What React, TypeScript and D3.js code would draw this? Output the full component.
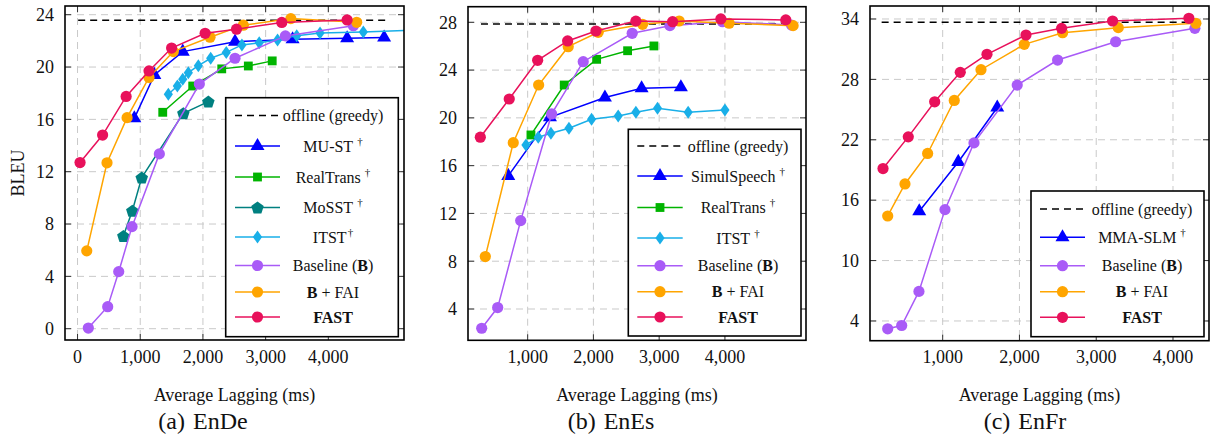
import React from 'react';
import * as d3 from 'd3';

type P = [number, number];

// ---------------- DATA ----------------
// EnDe
const endeFAST: P[] = [[40, 12.7], [400, 14.8], [775, 17.75], [1140, 19.7], [1500, 21.45], [2035, 22.58], [2535, 22.89], [3258, 23.41], [4300, 23.6]];
const endeFAI: P[] = [[147, 5.95], [470, 12.68], [790, 16.13], [1140, 19.2], [1528, 21.18], [2113, 22.28], [2644, 23.2], [3402, 23.7], [4452, 23.42]];
const endeBase: P[] = [[172, 0.05], [481, 1.68], [657, 4.36], [869, 7.8], [1305, 13.36], [1943, 18.7], [2512, 20.67], [3315, 22.38], [4399, 23.16]];
const endeMUST: P[] = [[906, 16.08], [1225, 19.4], [1678, 21.18], [2512, 21.94], [3430, 22.12], [4300, 22.2], [4890, 22.26]];
const endeRealTrans: P[] = [[1359, 16.54], [1837, 18.55], [2300, 19.86], [2724, 20.08], [3105, 20.47]];
const endeMoSST: P[] = [[731, 7.09], [874, 9.02], [1024, 11.55], [1688, 16.47], [2086, 17.36]];
const endeITST: P[] = [[1448, 17.92], [1592, 18.55], [1678, 19.07], [1767, 19.57], [1927, 20.1], [2124, 20.67], [2372, 21.12], [2622, 21.69], [2898, 21.85], [3190, 22.07], [3496, 22.4], [3868, 22.6], [4558, 22.68], [5600, 22.85]];
const endeOffline = { from: 10, to: 4950, bleu: 23.58 };

// EnEs
const enesFAST: P[] = [[280, 18.38], [720, 21.58], [1152, 24.82], [1608, 26.44], [2038, 27.27], [2646, 28.1], [3204, 28.05], [3938, 28.28], [4926, 28.2]];
const enesFAI: P[] = [[356, 8.39], [781, 17.92], [1167, 22.75], [1617, 25.96], [2073, 27.16], [2748, 27.83], [3304, 28.11], [4064, 27.92], [5037, 27.72]];
const enesBase: P[] = [[301, 2.39], [544, 4.12], [894, 11.4], [1365, 20.33], [1845, 24.7], [2590, 27.08], [3163, 27.72], [3963, 28.05], [5012, 27.77]];
const enesSimulSpeech: P[] = [[705, 15.14], [1339, 20.05], [2175, 21.7], [2733, 22.48], [3330, 22.56]];
const enesRealTrans: P[] = [[1050, 18.57], [1556, 22.75], [2049, 24.9], [2520, 25.62], [2920, 26.02]];
const enesITST: P[] = [[974, 17.73], [1161, 18.38], [1354, 18.71], [1628, 19.13], [1972, 19.88], [2377, 20.16], [2646, 20.47], [2975, 20.8], [3441, 20.47], [4000, 20.66]];
const enesOffline = { from: 290, to: 5030, bleu: 27.86 };

// EnFr
const enfrFAST: P[] = [[223, 19.14], [552, 22.29], [896, 25.77], [1229, 28.7], [1577, 30.49], [2085, 32.41], [2549, 33.07], [3213, 33.8], [4207, 34.07]];
const enfrFAI: P[] = [[284, 14.43], [509, 17.61], [804, 20.64], [1151, 25.91], [1499, 28.96], [2063, 31.48], [2562, 32.64], [3287, 33.14], [4298, 33.57]];
const enfrBase: P[] = [[284, 3.22], [466, 3.55], [691, 6.94], [1030, 15.06], [1408, 21.69], [1971, 27.43], [2497, 29.92], [3253, 31.74], [4285, 33.07]];
const enfrMMASLM: P[] = [[695, 14.9], [1203, 19.8], [1711, 25.21]];
const enfrOffline = { from: 205, to: 4290, bleu: 33.67 };

// ticks
const endeYTicks = [0, 4, 8, 12, 16, 20, 24];
const enesYTicks = [4, 8, 12, 16, 20, 24, 28];
const enfrYTicks = [4, 10, 16, 22, 28, 34];
const endeXTicks = [0, 1000, 2000, 3000, 4000];
const enesXTicks = [1000, 2000, 3000, 4000];
const enfrXTicks = [1000, 2000, 3000, 4000];

// ---------------- STYLE ----------------
const FONT = '"Liberation Serif", "DejaVu Serif", serif';
const C = {
  fast: '#E8115B',
  fai: '#FFA500',
  base: '#A95BF7',
  blue: '#0000FF',
  green: '#00B400',
  teal: '#008080',
  itst: '#19AFE8',
};

type Marker = 'circle' | 'triangle' | 'square' | 'diamond' | 'pentagon';
type Part = { t: string; bold?: boolean };
type Series = { data: P[]; color: string; marker: Marker; label: Part[]; dagger?: 'space' | 'tight' };

const triPath = d3.symbol(d3.symbolTriangle, 85)() as string;
const sqPath = d3.symbol(d3.symbolSquare, 78)() as string;
const diamondPath = 'M0,-6.5L4.6,0L0,6.5L-4.6,0Z';
const pentPath = (() => {
  const r = 6.6;
  const pts = d3.range(5).map((i) => {
    const a = -Math.PI / 2 + (i * 2 * Math.PI) / 5;
    return [r * Math.cos(a), r * Math.sin(a) + 0.6];
  });
  return 'M' + pts.map((p) => p.join(',')).join('L') + 'Z';
})();

function MarkerShape({ kind, x, y, color }: { kind: Marker; x: number; y: number; color: string }) {
  if (kind === 'circle') return <circle cx={x} cy={y} r={5.6} fill={color} />;
  const d = kind === 'triangle' ? triPath : kind === 'square' ? sqPath : kind === 'diamond' ? diamondPath : pentPath;
  return <path d={d} transform={`translate(${x},${y})`} fill={color} />;
}

type PanelProps = {
  id: string;
  left: number; right: number; top: number; bottom: number;
  xDomain: [number, number]; yDomain: [number, number];
  xTicks: number[]; yTicks: number[];
  series: Series[];
  offline: { from: number; to: number; bleu: number };
  legend: { left: number; right: number; top: number; bottom: number; rows: number[]; lx0: number; lx1: number; tx: number };
  yLabel?: boolean;
  caption: { x: number; tag: string; name: string };
};

const fmt = d3.format(',');
const txt = (size: number) => ({ fontFamily: FONT, fontSize: size });

function Panel(p: PanelProps) {
  const x = d3.scaleLinear().domain(p.xDomain).range([p.left, p.right]);
  const y = d3.scaleLinear().domain(p.yDomain).range([p.bottom, p.top]);
  const line = d3.line<P>().x((d) => x(d[0])).y((d) => y(d[1]));
  const tl = 6;
  const cx = (p.left + p.right) / 2;
  const cy = (p.top + p.bottom) / 2;
  return (
    <g>
      <defs>
        <clipPath id={`clip-${p.id}`}>
          <rect x={p.left} y={p.top} width={p.right - p.left} height={p.bottom - p.top} />
        </clipPath>
      </defs>
      {p.xTicks.map((t) => (
        <line key={'gx' + t} x1={x(t)} x2={x(t)} y1={p.top} y2={p.bottom} stroke="#c9c9c9" strokeWidth={1} strokeDasharray="7,5" />
      ))}
      {p.yTicks.map((t) => (
        <line key={'gy' + t} x1={p.left} x2={p.right} y1={y(t)} y2={y(t)} stroke="#c9c9c9" strokeWidth={1} strokeDasharray="7,5" />
      ))}
      <line x1={x(p.offline.from)} x2={x(p.offline.to)} y1={y(p.offline.bleu)} y2={y(p.offline.bleu)} stroke="#000" strokeWidth={1.6} strokeDasharray="7,5" />
      {p.series.map((s, i) => (
        <g key={'s' + i}>
          <path d={line(s.data) as string} fill="none" stroke={s.color} strokeWidth={1.5} clipPath={`url(#clip-${p.id})`} />
          {s.data
            .filter((d) => d[0] >= p.xDomain[0] && d[0] <= p.xDomain[1])
            .map((d, j) => (
              <MarkerShape key={j} kind={s.marker} x={x(d[0])} y={y(d[1])} color={s.color} />
            ))}
        </g>
      ))}
      {p.xTicks.map((t) => (
        <g key={'tx' + t}>
          <line x1={x(t)} x2={x(t)} y1={p.bottom} y2={p.bottom - tl} stroke="#333" strokeWidth={1} />
          <line x1={x(t)} x2={x(t)} y1={p.top} y2={p.top + tl} stroke="#333" strokeWidth={1} />
          <text x={x(t)} y={363} textAnchor="middle" style={txt(18)} fill="#111">{fmt(t)}</text>
        </g>
      ))}
      {p.yTicks.map((t) => (
        <g key={'ty' + t}>
          <line x1={p.left} x2={p.left + tl} y1={y(t)} y2={y(t)} stroke="#333" strokeWidth={1} />
          <line x1={p.right} x2={p.right - tl} y1={y(t)} y2={y(t)} stroke="#333" strokeWidth={1} />
          <text x={p.left - 11} y={y(t)} dy="0.35em" textAnchor="end" style={txt(18)} fill="#111">{t}</text>
        </g>
      ))}
      <rect x={p.left} y={p.top} width={p.right - p.left} height={p.bottom - p.top} fill="none" stroke="#000" strokeWidth={1.6} />
      <rect x={p.legend.left} y={p.legend.top} width={p.legend.right - p.legend.left} height={p.legend.bottom - p.legend.top} fill="#fff" stroke="#000" strokeWidth={1.6} />
      <line x1={p.legend.lx0} x2={p.legend.lx1} y1={p.legend.rows[0]} y2={p.legend.rows[0]} stroke="#000" strokeWidth={1.6} strokeDasharray="7,5" />
      <text x={p.legend.tx} y={p.legend.rows[0]} dy="0.35em" textAnchor="middle" style={txt(16)} fill="#111">offline (greedy)</text>
      {p.series.map((s, i) => {
        const ry = p.legend.rows[i + 1];
        return (
          <g key={'lg' + i}>
            <line x1={p.legend.lx0} x2={p.legend.lx1} y1={ry} y2={ry} stroke={s.color} strokeWidth={1.6} />
            <MarkerShape kind={s.marker} x={(p.legend.lx0 + p.legend.lx1) / 2} y={ry} color={s.color} />
            <text x={p.legend.tx} y={ry} dy="0.35em" textAnchor="middle" style={txt(16)} fill="#111">
              {s.label.map((pt, k) => (
                <tspan key={k} fontWeight={pt.bold ? 'bold' : 'normal'}>{pt.t}</tspan>
              ))}
              {s.dagger ? (
                <tspan fontSize={11} dx={s.dagger === 'space' ? 4 : 1} dy={-7}>†</tspan>
              ) : null}
            </text>
          </g>
        );
      })}
      <text x={cx} y={401} textAnchor="middle" style={txt(18)} fill="#111">Average Lagging (ms)</text>
      {p.yLabel ? (
        <text transform={`translate(18,${cy}) rotate(-90)`} dy="0.35em" textAnchor="middle" style={txt(18)} fill="#111">BLEU</text>
      ) : null}
      <text x={p.caption.x} y={429} textAnchor="middle" style={txt(24)} fill="#111">
        {p.caption.tag}
        <tspan dx={8}>{p.caption.name}</tspan>
      </text>
    </g>
  );
}

const baseLabel: Part[] = [{ t: 'Baseline (' }, { t: 'B', bold: true }, { t: ')' }];
const faiLabel: Part[] = [{ t: 'B', bold: true }, { t: ' + FAI' }];
const fastLabel: Part[] = [{ t: 'FAST', bold: true }];

export default function App() {
  const endeSeries: Series[] = [
    { data: endeMUST, color: C.blue, marker: 'triangle', label: [{ t: 'MU-ST' }], dagger: 'space' },
    { data: endeRealTrans, color: C.green, marker: 'square', label: [{ t: 'RealTrans' }], dagger: 'space' },
    { data: endeMoSST, color: C.teal, marker: 'pentagon', label: [{ t: 'MoSST' }], dagger: 'space' },
    { data: endeITST, color: C.itst, marker: 'diamond', label: [{ t: 'ITST' }], dagger: 'tight' },
    { data: endeBase, color: C.base, marker: 'circle', label: baseLabel },
    { data: endeFAI, color: C.fai, marker: 'circle', label: faiLabel },
    { data: endeFAST, color: C.fast, marker: 'circle', label: fastLabel },
  ];
  const enesSeries: Series[] = [
    { data: enesSimulSpeech, color: C.blue, marker: 'triangle', label: [{ t: 'SimulSpeech' }], dagger: 'space' },
    { data: enesRealTrans, color: C.green, marker: 'square', label: [{ t: 'RealTrans' }], dagger: 'space' },
    { data: enesITST, color: C.itst, marker: 'diamond', label: [{ t: 'ITST' }], dagger: 'space' },
    { data: enesBase, color: C.base, marker: 'circle', label: baseLabel },
    { data: enesFAI, color: C.fai, marker: 'circle', label: faiLabel },
    { data: enesFAST, color: C.fast, marker: 'circle', label: fastLabel },
  ];
  const enfrSeries: Series[] = [
    { data: enfrMMASLM, color: C.blue, marker: 'triangle', label: [{ t: 'MMA-SLM' }], dagger: 'space' },
    { data: enfrBase, color: C.base, marker: 'circle', label: baseLabel },
    { data: enfrFAI, color: C.fai, marker: 'circle', label: faiLabel },
    { data: enfrFAST, color: C.fast, marker: 'circle', label: fastLabel },
  ];
  return (
    <svg width={1211} height={436} style={{ position: 'absolute', left: 0, top: 0, background: '#fff' }}>
      <rect x={0} y={0} width={1211} height={436} fill="#fff" />
      <Panel
        id="a" left={65} right={404} top={6} bottom={340}
        xDomain={[-200, 5207]} yDomain={[-0.864, 24.665]}
        xTicks={endeXTicks} yTicks={endeYTicks}
        series={endeSeries} offline={endeOffline}
        legend={{ left: 225.7, right: 398.3, top: 97.7, bottom: 336.7, rows: [115.5, 146, 177, 207.5, 237, 265.5, 292, 317], lx0: 235, lx1: 280, tx: 333 }}
        yLabel
        caption={{ x: 203, tag: '(a)', name: 'EnDe' }}
      />
      <Panel
        id="b" left={468} right={806} top={6.7} bottom={340.3}
        xDomain={[92.7, 5233]} yDomain={[1.38, 29.306]}
        xTicks={enesXTicks} yTicks={enesYTicks}
        series={enesSeries} offline={enesOffline}
        legend={{ left: 628.3, right: 801, top: 129.3, bottom: 336, rows: [146, 176, 207.5, 238, 265.7, 291.7, 317], lx0: 637.3, lx1: 682.7, tx: 738 }}
        caption={{ x: 611, tag: '(b)', name: 'EnEs' }}
      />
      <Panel
        id="c" left={870} right={1209} top={6} bottom={340.7}
        xDomain={[53.4, 4469]} yDomain={[2.04, 35.29]}
        xTicks={enfrXTicks} yTicks={enfrYTicks}
        series={enfrSeries} offline={enfrOffline}
        legend={{ left: 1031, right: 1204, top: 191, bottom: 336.7, rows: [209, 237.3, 265.7, 291.7, 317.3], lx0: 1040, lx1: 1085, tx: 1142 }}
        caption={{ x: 1025, tag: '(c)', name: 'EnFr' }}
      />
    </svg>
  );
}
